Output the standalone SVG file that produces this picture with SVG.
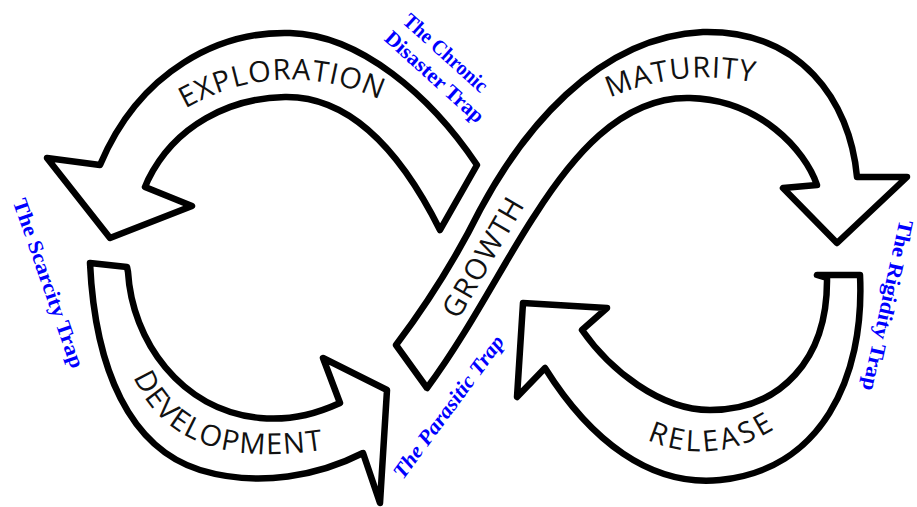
<svg xmlns="http://www.w3.org/2000/svg" width="917" height="507" viewBox="0 0 917 507">
<style>
.band{fill:#fff;stroke:#000;stroke-width:6.5;stroke-linejoin:round;stroke-linecap:round}
.lbl{font-family:"Open Sans","DejaVu Sans",sans-serif;font-size:29px;fill:#111}
.trap{font-family:"Liberation Serif","DejaVu Serif",serif;font-weight:bold;font-size:21px;fill:#0000ff}
</style>
<defs>
<path id="pExp" d="M 183,110 Q 280,54 383,101"/>
<path id="pMat" d="M 612,97 Q 680,68 752,82"/>
<path id="pDev" d="M 128,362 Q 165,480 340,447"/>
<path id="pRel" d="M 648,440 Q 712,468 776,428"/>
</defs>
<rect width="917" height="507" fill="#fff"/>

<g id="exploration">
<path class="band" d="M 477,165 C 430,95 360,35 290,33 C 220,31 140,70 100,165 L 47,158 L 110,238 L 192,206 L 145,187 L 148,180 C 175,125 230,98 285,97 C 350,96 400,150 440,230 Z"/>
<text class="lbl" letter-spacing="1"><textPath href="#pExp" startOffset="50%" text-anchor="middle">EXPLORATION</textPath></text>
</g>

<g id="growth-maturity">
<path class="band" d="M 396,345 C 430,300 460,250 480,210 C 520,135 595,37 703,32 C 800,30 850,100 857,177 L 907,177 L 837,243 L 783,188 L 817,185 C 805,150 760,100 690,98 C 620,96 570,160 535,215 C 505,260 470,330 427,388 Z"/>
<text class="lbl" letter-spacing="1"><textPath href="#pMat" startOffset="50%" text-anchor="middle">MATURITY</textPath></text>
<text class="lbl" font-size="30" letter-spacing="1.5" text-anchor="middle" transform="translate(492,262) rotate(-60)">GROWTH</text>
</g>

<g id="development">
<path class="band" d="M 90,263 L 127,267 L 128,272 C 132,340 180,410 260,418 C 295,421 320,412 340,403 L 323,358 L 387,390 L 380,503 L 363,453 C 320,475 260,488 200,470 C 130,448 95,370 90,263 Z"/>
<text class="lbl" font-size="32" letter-spacing="1.5"><textPath href="#pDev" startOffset="50%" text-anchor="middle">DEVELOPMENT</textPath></text>
</g>

<g id="release">
<path class="band" d="M 817,275 L 860,275 C 865,380 820,470 720,480 C 650,487 590,440 545,368 L 517,397 L 523,303 L 607,308 L 582,330 C 610,370 660,410 710,410 C 780,410 828,360 827,278 Z"/>
<text class="lbl" letter-spacing="3"><textPath href="#pRel" startOffset="50%" text-anchor="middle">RELEASE</textPath></text>
</g>

<g id="chronic-disaster-trap">
<text class="trap" text-anchor="middle" textLength="106" lengthAdjust="spacingAndGlyphs" transform="translate(441,58) rotate(42)">The Chronic</text>
<text class="trap" text-anchor="middle" textLength="126" lengthAdjust="spacingAndGlyphs" transform="translate(430,82) rotate(42)">Disaster Trap</text>
</g>
<g id="parasitic-trap">
<text class="trap" font-style="italic" text-anchor="middle" textLength="172" lengthAdjust="spacingAndGlyphs" transform="translate(454,411) rotate(-53.6)">The Parasitic Trap</text>
</g>
<g id="rigidity-trap">
<text class="trap" text-anchor="middle" textLength="174" lengthAdjust="spacingAndGlyphs" transform="translate(881,304) rotate(102.4)">The Rigidity Trap</text>
</g>
<g id="scarcity-trap">
<text class="trap" text-anchor="middle" textLength="178" lengthAdjust="spacingAndGlyphs" transform="translate(42,285.5) rotate(70.7)">The Scarcity Trap</text>
</g>
</svg>
